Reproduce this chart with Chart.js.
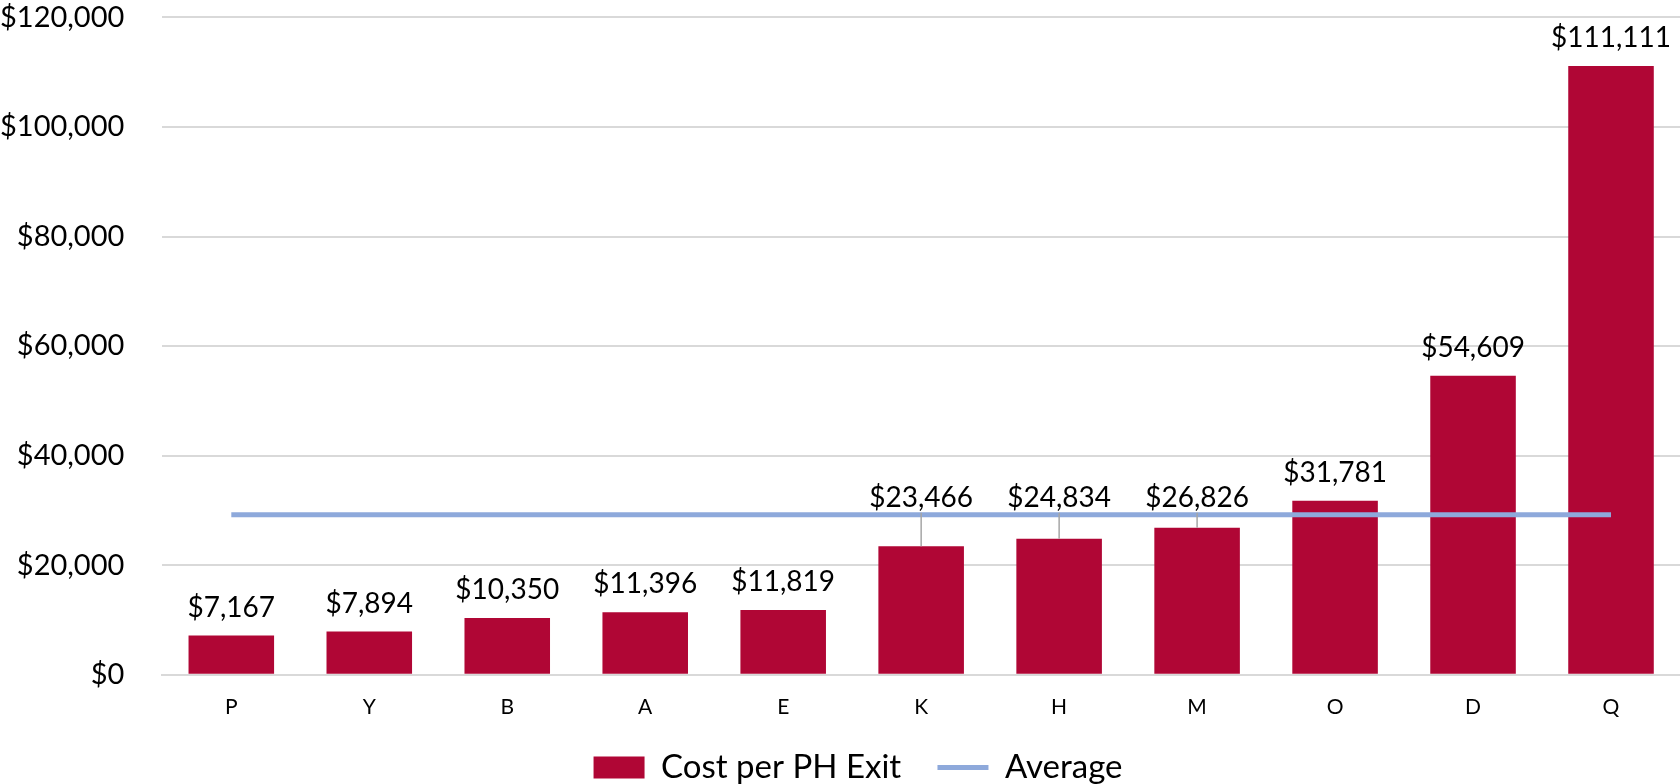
<!DOCTYPE html>
<html>
<head>
<meta charset="utf-8">
<script src="https://cdn.jsdelivr.net/npm/chart.js@4.4.1/dist/chart.umd.min.js"></script>
<style>
  html, body { margin: 0; padding: 0; background: #fff; }
  #wrap { width: 1680px; height: 784px; }
</style>
</head>
<body>
<div id="wrap"><canvas id="costChart" width="1680" height="784"></canvas></div>
<script>
const categories = ["P", "Y", "B", "A", "E", "K", "H", "M", "O", "D", "Q"];
const costPerExit = [7167, 7894, 10350, 11396, 11819, 23466, 24834, 26826, 31781, 54609, 111111];
const averageValues = [29205, 29205, 29205, 29205, 29205, 29205, 29205, 29205, 29205, 29205, 29205];
const yTicks = [0, 20000, 40000, 60000, 80000, 100000, 120000];

const barColor = "#B00635";
const avgColor = "#8EA9DB";

function money(v) {
  return "$" + v.toLocaleString("en-US");
}

// value labels above the bars, pushed up over the average line where they would collide
const barLabels = {
  id: "barLabels",
  afterDatasetsDraw(chart) {
    const ctx = chart.ctx;
    const meta = chart.getDatasetMeta(0);
    const avgY = chart.scales.y.getPixelForValue(averageValues[0]);
    ctx.save();
    ctx.font = "28px Lato";
    ctx.fillStyle = "#000";
    ctx.textAlign = "center";
    ctx.textBaseline = "middle";
    meta.data.forEach((bar, i) => {
      let cy = bar.y - 28;
      if (cy + 14 > avgY - 2 && cy - 14 < avgY + 2) {
        cy = avgY - 17;
        ctx.strokeStyle = "#A6A6A6";
        ctx.lineWidth = 1.5;
        ctx.beginPath();
        ctx.moveTo(bar.x, cy + 15);
        ctx.lineTo(bar.x, bar.y);
        ctx.stroke();
      }
      ctx.fillText(money(costPerExit[i]), bar.x, cy);
    });
    ctx.restore();
  }
};

// legend sits a little right of centre in the original
const legendNudge = {
  id: "legendNudge",
  afterLayout(chart) {
    chart.legend.left += 16;
    chart.legend.right += 16;
  }
};

new Chart(document.getElementById("costChart"), {
  type: "bar",
  data: {
    labels: categories,
    datasets: [
      {
        label: "Cost per PH Exit",
        data: costPerExit,
        backgroundColor: barColor,
        borderWidth: 0,
        categoryPercentage: 1,
        barPercentage: 0.62,
        order: 2,
        pointStyle: "rect"
      },
      {
        label: "Average",
        type: "line",
        data: averageValues,
        borderColor: avgColor,
        backgroundColor: avgColor,
        borderWidth: 5,
        pointRadius: 0,
        fill: false,
        order: 1,
        pointStyle: "line"
      }
    ]
  },
  options: {
    responsive: false,
    animation: false,
    layout: { padding: { top: -3, right: -4, left: 0, bottom: -10 } },
    plugins: {
      legend: {
        position: "bottom",
        labels: {
          usePointStyle: true,
          pointStyleWidth: 51,
          boxHeight: 22,
          font: { family: "Lato", size: 33 },
          color: "#000",
          padding: 11,
          generateLabels: (chart) => {
            const items = Chart.defaults.plugins.legend.labels.generateLabels(chart);
            items.forEach(it => { if (it.datasetIndex === 0) it.text += "   "; });
            return items;
          },
          sort: (a, b) => a.datasetIndex - b.datasetIndex
        }
      },
      tooltip: { enabled: false }
    },
    scales: {
      x: {
        grid: { display: false, drawTicks: false },
        border: { color: "#D9D9D9", width: 2 },
        ticks: { font: { family: "Lato", size: 21 }, color: "#000", padding: 20 }
      },
      y: {
        min: 0,
        max: 120000,
        afterBuildTicks: (axis) => { axis.ticks = yTicks.map(v => ({ value: v })); },
        grid: { color: "#D9D9D9", lineWidth: 2, drawTicks: true, tickLength: 38, tickColor: "rgba(0,0,0,0)" },
        border: { display: false },
        ticks: {
          font: { family: "Lato", size: 29 },
          color: "#000",
          padding: 0,
          callback: (v) => money(v)
        }
      }
    }
  },
  plugins: [barLabels, legendNudge]
});
</script>
</body>
</html>
